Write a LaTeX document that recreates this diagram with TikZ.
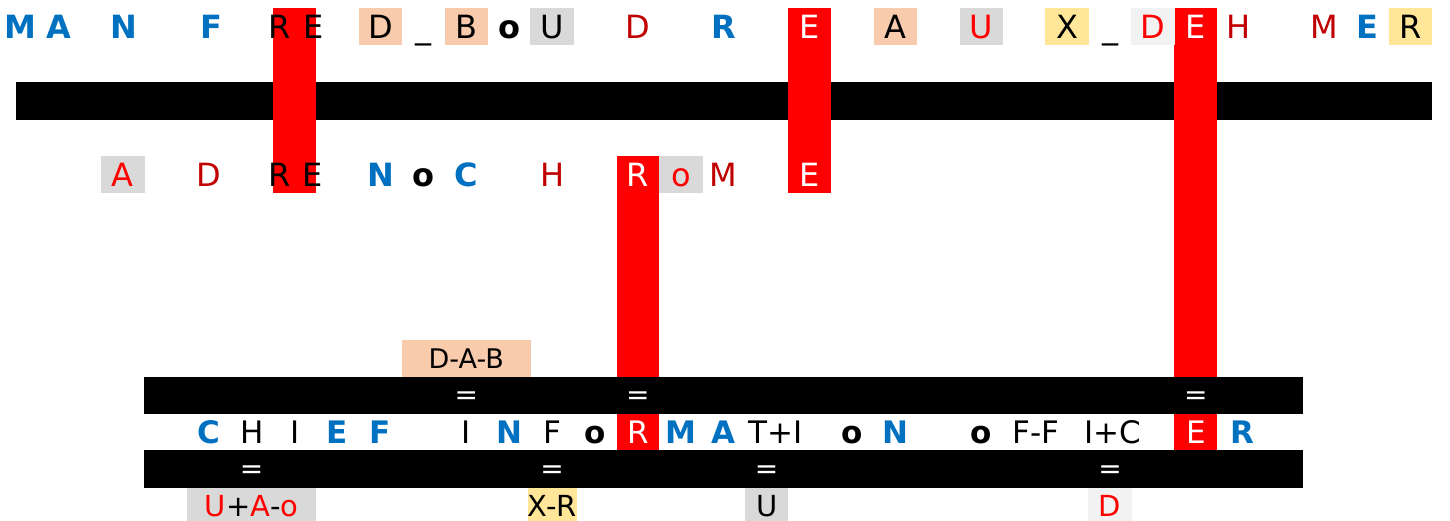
\documentclass[tikz,border=0pt]{standalone}
\usepackage{fontspec}
\setmainfont{DejaVu Sans}
\usepackage{tikz}
\usetikzlibrary{positioning}
\definecolor{xlblue}{HTML}{0070C0}
\definecolor{xldred}{HTML}{C00000}
\definecolor{xlred}{HTML}{FF0000}
\definecolor{peach}{HTML}{F8CBAD}
\definecolor{lgray}{HTML}{D9D9D9}
\definecolor{pale}{HTML}{F2F2F2}
\definecolor{gold}{HTML}{FFE699}
\newcommand{\gx}[1]{37.06+42.92*#1}
\newcommand{\lnode}[4]{\node [#1] (#2) at (#3) {#4}}
\tikzset{
  ltr/.style={inner sep=0pt, minimum width=43.5pt, minimum height=37pt, text depth=0pt},
  big/.style={ltr, font=\fontsize{32}{36}\selectfont, text height=23.3pt},
  mid/.style={ltr, font=\fontsize{31}{36}\selectfont, text height=22.6pt},
  low/.style={ltr, font=\fontsize{29}{34}\selectfont, text height=21.1pt},
  tag/.style={ltr, font=\fontsize{27}{32}\selectfont, text height=19.7pt},
  bblue/.style={text=xlblue, execute at begin node=\bfseries},
  bblk/.style={execute at begin node=\bfseries},
  eqs/.style={text=white, inner sep=0pt, font=\fontsize{28}{34}\selectfont},
  redbar/.style={fill=xlred},
  blkbar/.style={fill=black}
}
\begin{document}
\begin{tikzpicture}[x=1pt,y=-1pt]
\useasboundingbox (0,0) rectangle (1450,521);

% bars
\fill[blkbar] (15.6,82) rectangle (1432,120);
\fill[redbar] (273.1,8) rectangle (316.1,193);
\fill[redbar] (788.2,8) rectangle (831.2,193);
\fill[redbar] (1174.4,8) rectangle (1217.4,450);
\fill[redbar] (616.5,156) rectangle (659.4,450);
\fill[blkbar] (144.4,377) rectangle (1303.2,414);
\fill[blkbar] (144.4,450) rectangle (1303.2,487.5);

% top row
\lnode{big,bblue}{t1}{20,27}{M};
\lnode{big,bblue}{t2}{59,27}{A};
\lnode{big,bblue}{t3}{124,27}{N};
\lnode{big,bblue}{t4}{211,27}{F};
\lnode{big}{t5}{280,27}{R};
\lnode{big}{t6}{314,27}{E};
\lnode{big,fill=peach}{t7}{{\gx{8}},27}{D};
\lnode{big}{t8}{{\gx{9}},27}{\_};
\lnode{big,fill=peach}{t9}{{\gx{10}},27}{B};
\lnode{big,bblk}{t10}{{\gx{11}},27}{o};
\lnode{big,fill=lgray}{t11}{{\gx{12}},27}{U};
\lnode{big,text=xldred}{t12}{{\gx{14}},27}{D};
\lnode{big,bblue}{t13}{{\gx{16}},27}{R};
\lnode{big,text=white}{t14}{{\gx{18}},27}{E};
\lnode{big,fill=peach}{t15}{{\gx{20}},27}{A};
\lnode{big,fill=lgray,text=xlred}{t16}{{\gx{22}},27}{U};
\lnode{big,fill=gold}{t17}{{\gx{24}},27}{X};
\lnode{big}{t18}{{\gx{25}},27}{\_};
\lnode{big,fill=pale,text=xlred}{t19}{{\gx{26}},27}{D};
\lnode{big,text=white}{t20}{{\gx{27}},27}{E};
\lnode{big,text=xldred}{t21}{{\gx{28}},27}{H};
\lnode{big,text=xldred}{t22}{{\gx{30}},27}{M};
\lnode{big,bblue}{t23}{{\gx{31}},27}{E};
\lnode{big,fill=gold}{t24}{{\gx{32}},27}{R};

% second row
\lnode{big,fill=lgray,text=xlred}{s1}{{\gx{2}},174.5}{A};
\lnode{big,text=xldred}{s2}{{\gx{4}},174.5}{D};
\lnode{big}{s3}{280,174.5}{R};
\lnode{big}{s4}{313,174.5}{E};
\lnode{big,bblue}{s5}{{\gx{8}},174.5}{N};
\lnode{big,bblk}{s6}{{\gx{9}},174.5}{o};
\lnode{big,bblue}{s7}{{\gx{10}},174.5}{C};
\lnode{big,text=xldred}{s8}{{\gx{12}},174.5}{H};
\lnode{big,text=white}{s9}{{\gx{14}},174.5}{R};
\lnode{big,fill=lgray,text=xlred}{s10}{{\gx{15}},174.5}{o};
\lnode{big,text=xldred}{s11}{{\gx{16}},174.5}{M};
\lnode{big,text=white}{s12}{{\gx{18}},174.5}{E};

% label over the bars
\lnode{tag,fill=peach,minimum width=128.8pt}{dab}{{\gx{10}},358.5}{D-A-B};

% middle row
\lnode{mid,bblue}{c1}{{\gx{4}},432}{C};
\lnode{mid}{c2}{{\gx{5}},432}{H};
\lnode{mid}{c3}{{\gx{6}},432}{I};
\lnode{mid,bblue}{c4}{{\gx{7}},432}{E};
\lnode{mid,bblue}{c5}{{\gx{8}},432}{F};
\lnode{mid}{c6}{{\gx{10}},432}{I};
\lnode{mid,bblue}{c7}{{\gx{11}},432}{N};
\lnode{mid}{c8}{{\gx{12}},432}{F};
\lnode{mid,bblk}{c9}{{\gx{13}},432}{o};
\lnode{mid,text=white}{c10}{{\gx{14}},432}{R};
\lnode{mid,bblue}{c11}{{\gx{15}},432}{M};
\lnode{mid,bblue}{c12}{{\gx{16}},432}{A};
\lnode{mid}{c13}{776,432}{T+I};
\lnode{mid,bblk}{c14}{{\gx{19}},432}{o};
\lnode{mid,bblue}{c15}{{\gx{20}},432}{N};
\lnode{mid,bblk}{c16}{{\gx{22}},432}{o};
\lnode{mid}{c17}{1036,432}{F-F};
\lnode{mid}{c18}{1113,432}{I+C};
\lnode{mid,text=white}{c19}{{\gx{27}},432}{E};
\lnode{mid,bblue}{c20}{1242,432}{R};

% equal signs
\lnode{eqs}{e1}{{\gx{10}},398}{=};
\lnode{eqs}{e2}{{\gx{14}},398}{=};
\lnode{eqs}{e3}{{\gx{27}},398}{=};
\lnode{eqs}{e4}{{\gx{5}},472}{=};
\lnode{eqs}{e5}{{\gx{12}},472}{=};
\lnode{eqs}{e6}{{\gx{17}},472}{=};
\lnode{eqs}{e7}{{\gx{25}},472}{=};

% bottom row
\lnode{low,fill=lgray,minimum width=128.8pt}{b1}{{\gx{5}},506}{{\color{xlred}U}+{\color{xlred}A}-{\color{xlred}o}};
\lnode{low,fill=gold}{b2}{{\gx{12}},506}{X-R};
\lnode{low,fill=lgray}{b3}{{\gx{17}},506}{U};
\lnode{low,fill=pale,text=xlred}{b4}{{\gx{25}},506}{D};

\end{tikzpicture}
\end{document}
